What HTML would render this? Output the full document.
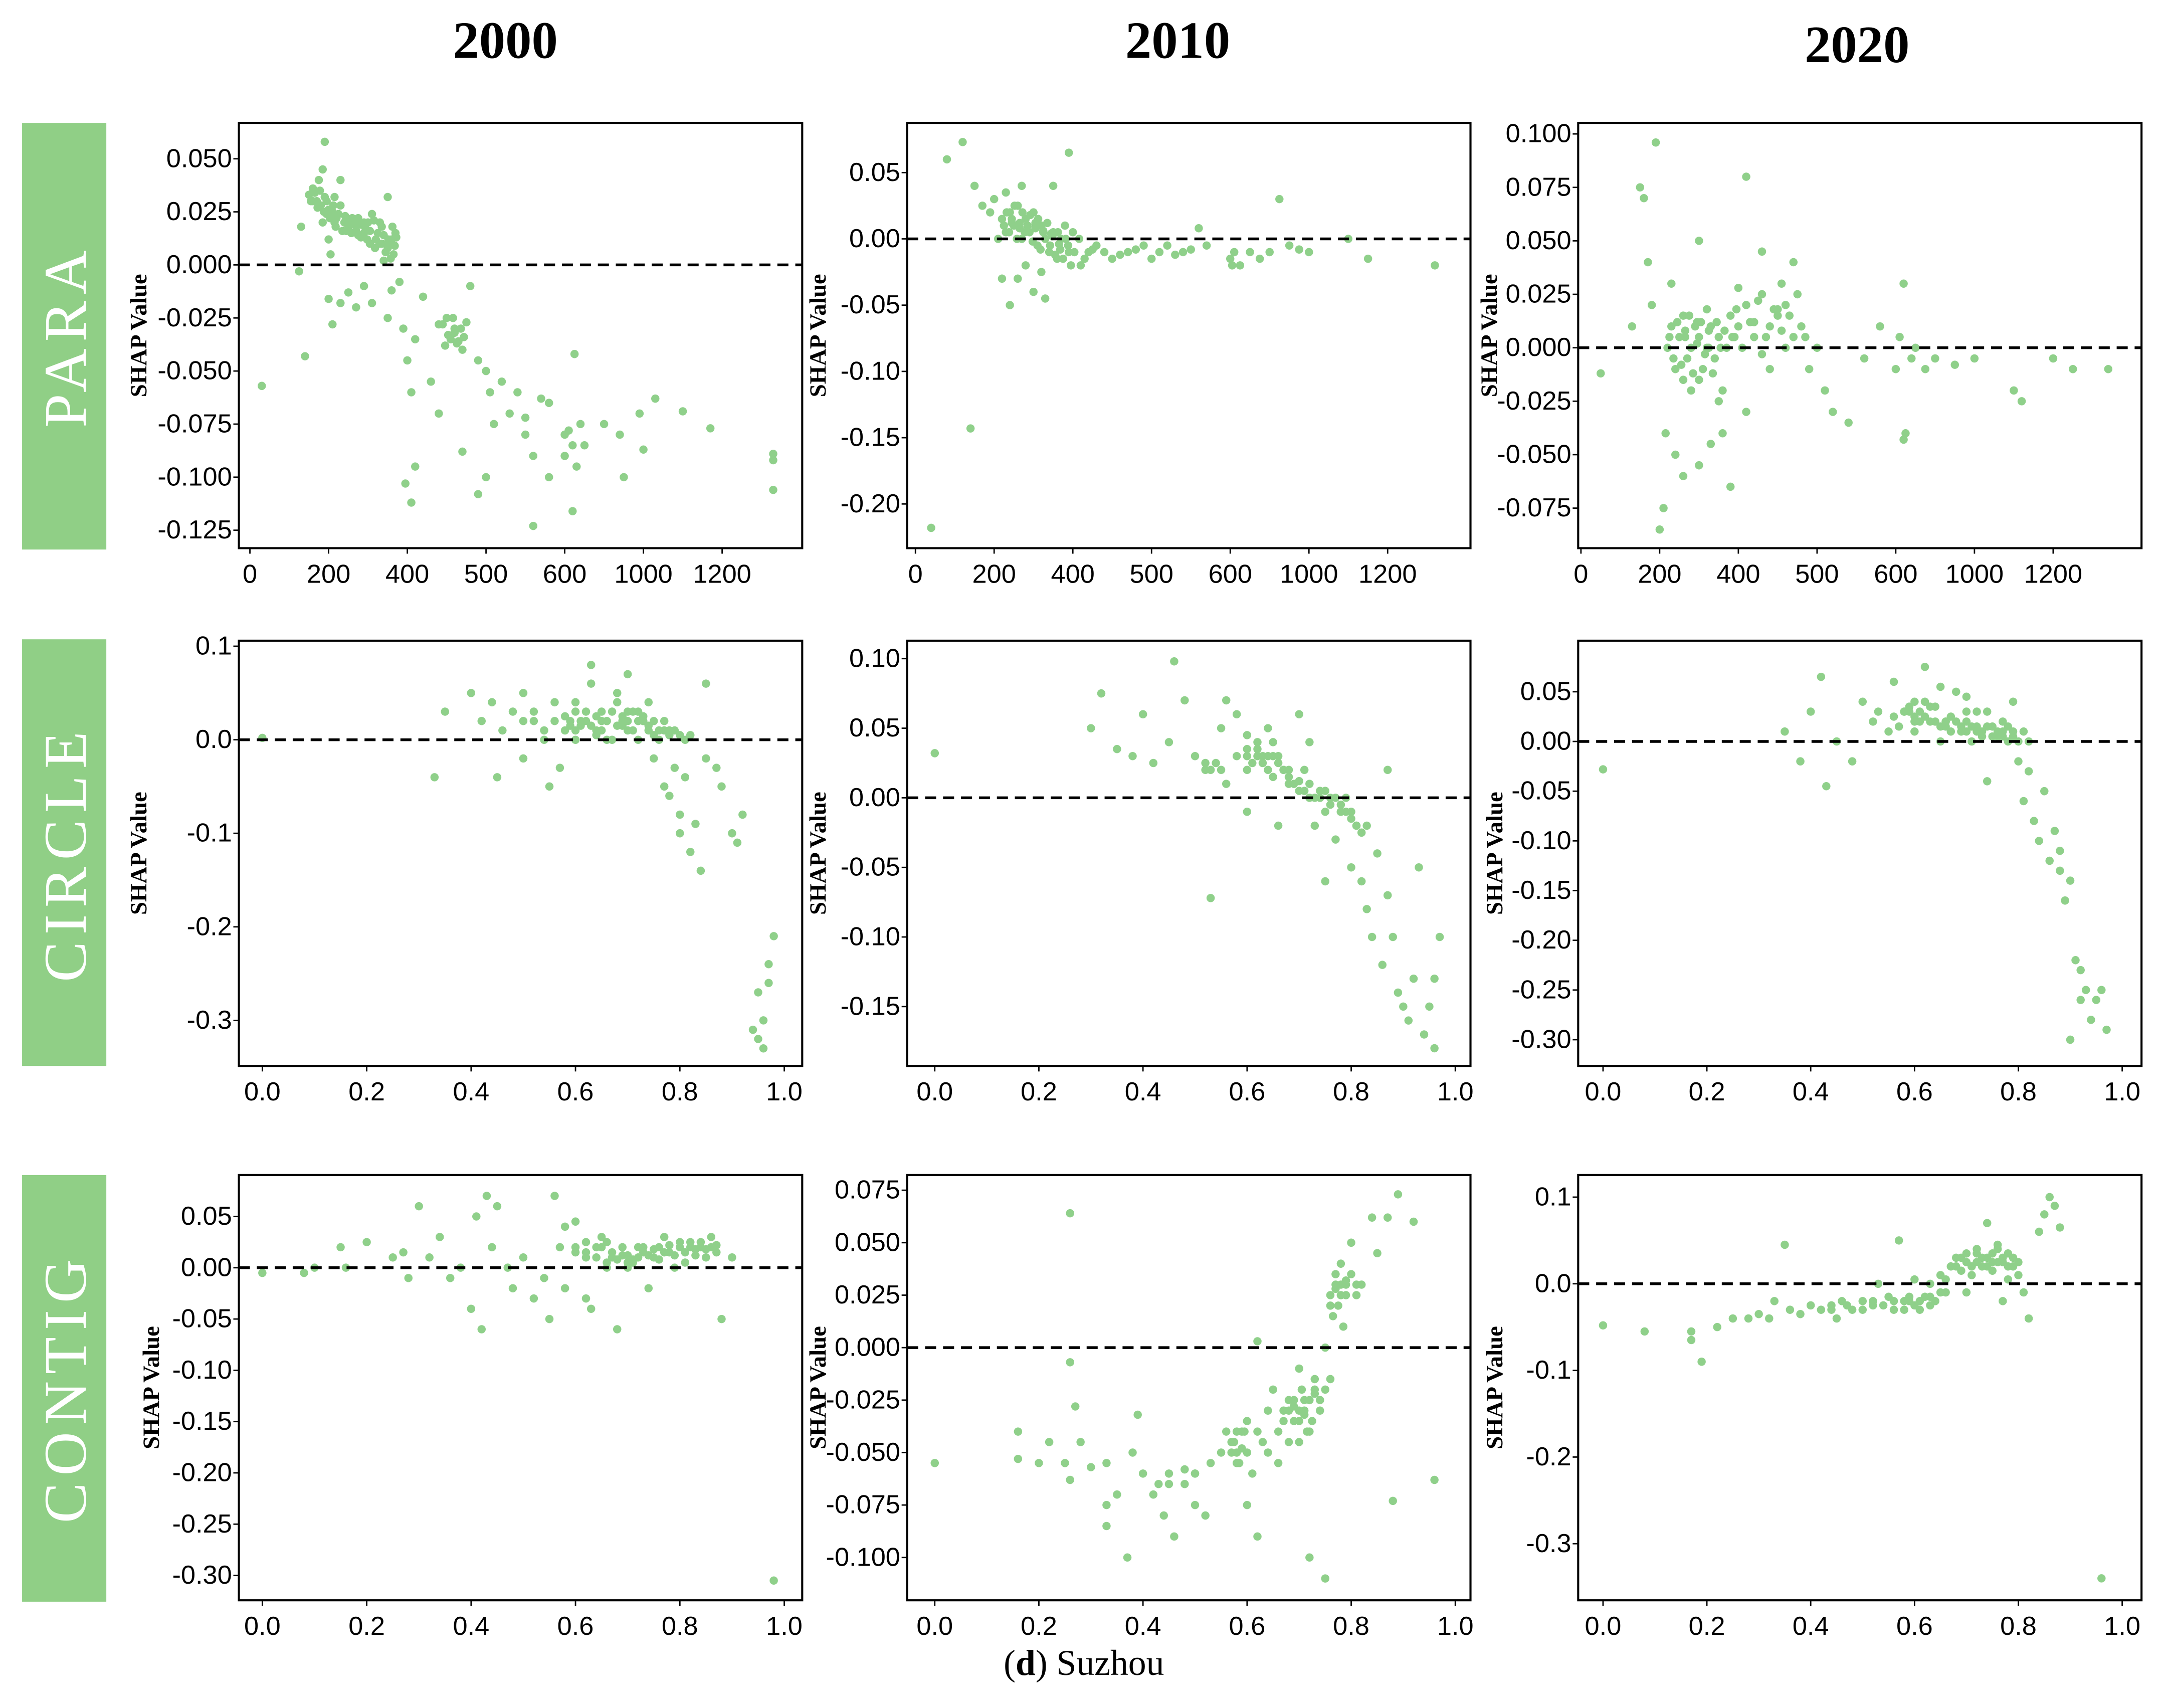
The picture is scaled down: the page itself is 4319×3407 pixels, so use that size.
<!DOCTYPE html>
<html><head><meta charset="utf-8"><title>Suzhou SHAP dependence</title>
<style>
html,body{margin:0;padding:0;background:#fff;}
svg{display:block;}
.tick{font-family:"Liberation Sans Narrow","Liberation Sans",sans-serif;font-size:19px;fill:#000;}
.ylab{font-family:"Liberation Serif",serif;font-size:17px;font-weight:bold;fill:#000;}
.year{font-family:"Liberation Serif",serif;font-size:38px;font-weight:bold;fill:#000;}
.rowlab{font-family:"Liberation Serif",serif;font-size:44px;fill:#fff;letter-spacing:5px;}
</style></head>
<body>
<svg id="fig" width="4319" height="3407" viewBox="0 0 1568 1237" preserveAspectRatio="none" xmlns="http://www.w3.org/2000/svg">
<rect x="0" y="0" width="1568" height="1237" fill="#fff"/>
<text class="year" x="366" y="42" text-anchor="middle">2000</text>
<text class="year" x="853" y="42" text-anchor="middle">2010</text>
<text class="year" x="1345" y="45" text-anchor="middle">2020</text>
<rect x="16" y="89" width="61" height="309" fill="#90cf86"/>
<rect x="16" y="463" width="61" height="309" fill="#90cf86"/>
<rect x="16" y="851" width="61" height="309" fill="#90cf86"/>
<text class="rowlab" transform="translate(62,243) rotate(-90)" text-anchor="middle">PARA</text>
<text class="rowlab" transform="translate(62,618) rotate(-90)" text-anchor="middle">CIRCLE</text>
<text class="rowlab" transform="translate(62,1005) rotate(-90)" text-anchor="middle">CONTIG</text>
<text x="785" y="1213" text-anchor="middle" style="font-family:'Liberation Serif',serif;font-size:26px">(<tspan font-weight="bold">d</tspan>) Suzhou</text>
<g id="panels"></g>
</svg>
<script>
// ---- data (x values, SHAP values) per panel ----
const p1x=[150,160,170,180,190,200,210,220,230,240,250,260,270,280,290,300,310,320,330,340,350,360,370,365,175,185,190,230,350,200,205,130,340,160,195,215,245,275,305,335,355,
30,140,125,200,210,230,250,270,290,310,350,360,380,390,400,405,410,420,430,440,450,455,460,470,480,490,500,505,510,520,530,540,550,560,570,580,600,620,640,660,680,700,395,405,410,470,490,500,560,640,600,800,880,900,980,1000,1030,1100,1170,1330,1330,1330,650,550,580,440,460,465];
const p1y=[.033,.036,.03,.028,.032,.026,.025,.022,.028,.02,.018,.022,.016,.019,.015,.02,.024,.012,.01,.014,.008,.012,.015,.005,.04,.045,.058,.04,.032,.012,.005,.018,.002,.03,.024,.02,.016,.014,.01,.018,.01,
-.057,-.043,-.003,-.016,-.028,-.018,-.013,-.02,-.01,-.018,-.025,-.012,-.008,-.03,-.045,-.06,-.035,-.015,-.055,-.07,-.025,-.035,-.03,-.04,-.01,-.045,-.05,-.06,-.075,-.055,-.07,-.06,-.072,-.09,-.063,-.065,-.09,-.078,-.085,-.095,-.075,-.085,-.103,-.112,-.095,-.088,-.108,-.1,-.123,-.116,-.08,-.075,-.08,-.1,-.07,-.087,-.063,-.069,-.077,-.089,-.092,-.106,-.042,-.08,-.1,-.028,-.032,-.036];
const e1x=[155,165,172,178,188,195,203,212,218,225,235,242,252,258,265,275,282,292,298,305,315,318,325,335,345,352,358,362,368,372,185,215,290,330,445,452,458,463,468,472,448,475];
const e1y=[.03,.034,.027,.035,.025,.03,.022,.028,.018,.024,.016,.023,.02,.015,.019,.022,.013,.018,.012,.016,.021,.008,.015,.01,.006,.012,.003,.018,.009,.013,.02,.032,.02,.02,-.028,-.033,-.025,-.037,-.03,-.034,-.038,-.027];
const p2x=[80,120,150,170,190,200,210,220,230,240,250,260,270,280,290,300,310,320,330,340,350,360,370,380,390,400,410,420,430,450,470,490,510,530,550,570,600,620,650,700,750,800,850,900,950,1000,1100,1150,1320,240,260,300,330,390,350,270,220,40,140,560,610,230,280,320,245,265,285,305,325,345,365];
const p2y=[.06,.073,.04,.025,.02,.03,.0,.015,.005,.02,.01,.025,.0,.015,.005,.02,-.005,.01,.0,-.01,.005,-.015,.0,.01,-.01,.005,-.02,-.01,-.005,-.015,-.01,-.005,-.01,-.012,-.008,-.005,-.015,-.01,-.02,-.01,-.015,-.01,.03,-.005,-.008,-.01,.0,-.015,-.02,-.05,-.03,-.04,-.045,.065,.04,.04,-.03,-.218,-.143,.008,-.02,.035,-.02,-.025,.012,.008,.01,.012,.006,.004,-.004];
const e2x=[225,232,238,245,252,258,265,272,278,285,292,298,305,312,318,325,335,342,348,355,362,368,375,382,388,395,402,408,415,425,440,460,480,500,520,540];
const e2y=[.01,.02,.005,.015,.025,.0,.012,.02,.005,.01,.018,-.002,.008,.015,-.008,.005,.012,-.005,.002,-.012,.005,-.008,-.015,.0,-.005,-.02,-.01,.0,-.015,-.008,-.01,-.012,-.008,-.015,-.005,-.01];
const p3x=[50,130,150,160,190,170,180,200,210,215,220,230,240,250,260,270,280,290,300,310,320,330,340,350,360,370,380,390,400,410,420,430,440,450,460,470,480,490,500,510,520,540,560,580,600,620,640,650,680,700,750,800,900,1000,1100,1200,1250,1340,240,260,300,330,360,380,410,430,300,230,350,280,440,470,410,460,1120,640,265,295,325,420,450];
const p3y=[-.012,.01,.075,.07,.096,.04,.02,-.085,-.075,-.04,.0,.01,-.01,.005,.015,-.005,.0,.01,.005,-.01,.0,.01,-.005,.005,-.02,.0,.015,.005,.01,.02,.005,.025,.01,.015,.02,.005,.01,-.01,.0,-.02,-.03,-.035,-.005,.01,-.01,.005,.03,-.04,-.005,.0,-.01,-.005,-.008,-.005,-.02,-.005,-.01,-.01,-.05,-.06,-.055,-.045,-.04,-.065,.08,.045,.05,.03,-.025,-.02,-.01,.04,-.03,.0,-.025,-.043,.005,.012,.0,.012,.018];
const e3x=[225,235,245,255,265,275,285,295,305,315,325,335,345,355,365,300,260,320,385,395,405,415,425,435,445,455,465,475,400,430,455,485];
const e3y=[.005,-.005,.012,-.008,.008,.015,-.012,.002,.012,-.003,.008,-.012,.012,.0,.008,-.015,-.015,.018,.005,.018,.0,.012,.022,.005,.018,.008,.015,.025,.028,-.003,.03,.005];
const p4x=[0.0,0.33,0.35,0.4,0.42,0.44,0.46,0.48,0.5,0.5,0.52,0.54,0.55,0.56,0.58,0.6,0.6,0.62,0.63,0.64,0.65,0.66,0.67,0.68,0.69,0.7,0.71,0.72,0.73,0.74,0.75,0.76,0.77,0.78,0.79,0.8,0.8,0.82,0.83,0.84,0.85,0.85,0.88,0.9,0.91,0.92,0.95,0.96,0.97,0.97,0.98,0.96,0.94,0.95,0.63,0.7,0.57,0.45,0.68,0.74,0.6,0.66,0.72,0.78,0.81,0.87,0.59,0.61,0.65,0.69,0.73,0.77];
const p4y=[.002,-.04,.03,.05,.02,.04,.01,.03,.05,-.02,.02,.0,-.05,.04,.01,.03,.0,.02,.06,.01,.03,.02,.0,.04,.02,.01,.03,.0,.02,.01,-.02,.0,-.05,.01,-.03,-.08,-.1,-.12,-.09,-.14,.06,-.02,-.05,-.1,-.11,-.08,-.32,-.3,-.26,-.24,-.21,-.33,-.31,-.27,.08,.07,-.03,-.04,.05,.04,.04,.0,.03,-.06,-.04,-.03,.02,.015,.02,.015,.02,.01];
const e4x=[.56,.58,.59,.61,.62,.63,.64,.65,.66,.67,.68,.69,.7,.71,.72,.73,.74,.75,.76,.77,.78,.79,.8,.81,.82,.6,.64,.7,.75,.5,.52,.54];
const e4y=[.02,.025,.015,.02,.03,.015,.025,.01,.02,.03,.015,.025,.02,.01,.02,.025,.015,.02,.01,.02,.005,.01,.005,.0,.005,.01,.005,.03,.005,.02,.03,.01];
const p5x=[0.0,0.3,0.32,0.35,0.38,0.4,0.42,0.45,0.46,0.48,0.5,0.52,0.53,0.54,0.55,0.56,0.58,0.6,0.6,0.62,0.63,0.64,0.65,0.66,0.67,0.68,0.7,0.71,0.72,0.73,0.74,0.75,0.76,0.77,0.78,0.8,0.8,0.81,0.82,0.83,0.84,0.85,0.86,0.87,0.88,0.89,0.9,0.91,0.92,0.93,0.94,0.95,0.96,0.97,0.96,0.7,0.66,0.6,0.56,0.72,0.75,0.79,0.83,0.87,0.64,0.58,0.62,0.68,0.74,0.78];
const p5y=[.032,.05,.075,.035,.03,.06,.025,.04,.098,.07,.03,.02,-.072,.025,.05,.01,.06,.035,.02,.04,.025,.03,.015,.03,.02,.01,.005,.02,.0,-.02,.005,-.01,.0,-.03,-.01,-.01,-.05,-.02,-.06,-.08,-.1,-.04,-.12,-.07,-.1,-.14,-.15,-.16,-.13,-.05,-.17,-.15,-.13,-.1,-.18,.06,-.02,-.01,.07,.04,-.06,.0,-.02,.02,.05,.03,.03,.02,.0,-.01];
const e5x=[.52,.53,.55,.6,.61,.62,.63,.64,.65,.66,.67,.68,.69,.7,.71,.72,.73,.74,.75,.76,.77,.78,.79,.8,.81,.82,.6,.65];
const e5y=[.025,.02,.02,.03,.025,.035,.03,.02,.03,.025,.02,.015,.01,.012,.005,.01,.0,.0,.005,-.005,.0,-.005,-.01,-.015,-.02,-.025,.045,.04];
const p6x=[0.0,0.35,0.38,0.4,0.42,0.43,0.45,0.48,0.5,0.52,0.55,0.56,0.58,0.6,0.6,0.62,0.63,0.64,0.65,0.66,0.67,0.68,0.69,0.7,0.71,0.72,0.73,0.74,0.75,0.76,0.77,0.78,0.79,0.8,0.81,0.82,0.83,0.84,0.85,0.86,0.87,0.88,0.89,0.9,0.91,0.92,0.93,0.94,0.95,0.96,0.97,0.9,0.92,0.88,0.65,0.7,0.6,0.74,0.79,0.82,0.53,0.57,0.59,0.61,0.66,0.72,0.77];
const p6y=[-.028,.01,-.02,.03,.065,-.045,.0,-.02,.04,.02,.01,.06,.03,.025,.04,.075,.02,.035,.0,.015,.025,.05,.01,.02,.0,.03,.01,-.04,.015,.005,.02,.0,.01,-.02,-.06,.0,-.08,-.1,-.05,-.12,-.09,-.13,-.16,-.14,-.22,-.26,-.25,-.28,-.26,-.25,-.29,-.3,-.23,-.11,.055,.045,.01,.03,.04,-.03,.03,.015,.03,.02,.02,.015,.01];
const e6x=[.56,.58,.59,.6,.61,.62,.63,.64,.65,.66,.67,.68,.69,.7,.71,.72,.73,.74,.75,.76,.77,.78,.79,.8,.81,.62,.7];
const e6y=[.025,.03,.035,.02,.03,.025,.035,.02,.015,.02,.01,.02,.015,.01,.015,.01,.005,.015,.005,.01,.005,.015,.005,.0,.01,.04,.03];
const p7x=[0.0,0.08,0.1,0.15,0.16,0.2,0.25,0.27,0.28,0.3,0.32,0.34,0.36,0.38,0.4,0.41,0.42,0.43,0.44,0.45,0.47,0.5,0.52,0.54,0.55,0.56,0.57,0.58,0.6,0.62,0.63,0.64,0.66,0.67,0.68,0.7,0.72,0.73,0.74,0.75,0.76,0.78,0.8,0.81,0.82,0.84,0.85,0.86,0.88,0.9,0.98,0.6,0.65,0.7,0.77,0.62,0.48,0.58,0.66,0.79,0.69,0.71,0.83,0.87];
const p7y=[-.005,-.005,.0,.02,.0,.025,.01,.015,-.01,.06,.01,.03,-.01,.0,-.04,.05,-.06,.07,.02,.06,.0,.01,-.03,-.01,-.05,.07,.02,-.02,.015,.01,-.04,.02,.0,.01,-.06,.005,.02,.015,-.02,.01,.02,.015,.02,.005,.025,.02,.01,.03,-.05,.01,-.305,.045,.03,.0,.03,-.03,-.02,.04,.025,.0,.012,.008,.018,.022];
const e7x=[.6,.62,.64,.65,.67,.68,.69,.7,.71,.72,.73,.74,.75,.76,.77,.78,.79,.8,.81,.82,.83,.84,.85,.86,.87,.62,.66];
const e7y=[.02,.015,.01,.02,.015,.008,.02,.012,.005,.01,.02,.012,.018,.008,.015,.022,.012,.025,.015,.02,.012,.025,.018,.02,.015,.025,.005];
const p8x=[0.0,0.16,0.16,0.2,0.22,0.25,0.26,0.26,0.26,0.27,0.28,0.3,0.33,0.33,0.33,0.35,0.37,0.38,0.39,0.4,0.42,0.43,0.44,0.45,0.46,0.48,0.5,0.5,0.52,0.53,0.55,0.56,0.57,0.58,0.58,0.59,0.6,0.61,0.62,0.63,0.64,0.65,0.66,0.67,0.68,0.69,0.7,0.71,0.72,0.72,0.73,0.74,0.75,0.75,0.76,0.76,0.77,0.78,0.78,0.79,0.8,0.81,0.82,0.84,0.85,0.87,0.88,0.89,0.92,0.96,0.62,0.7,0.6,0.66,0.69,0.71,0.73,0.77,0.79];
const p8y=[-.055,-.04,-.053,-.055,-.045,-.055,.064,-.007,-.063,-.028,-.045,-.057,-.055,-.075,-.085,-.07,-.1,-.05,-.032,-.06,-.07,-.065,-.08,-.06,-.09,-.065,-.06,-.075,-.08,-.055,-.05,-.04,-.045,-.05,-.055,-.04,-.035,-.06,-.09,-.045,-.03,-.02,-.04,-.03,-.025,-.035,-.03,-.025,-.04,-.1,-.02,-.03,-.11,.0,-.015,.02,.03,.025,.04,.03,.05,.025,.03,.062,.045,.062,-.073,.073,.06,-.063,.003,-.01,-.075,-.055,-.028,-.032,-.022,.028,.032];
const e8x=[.57,.575,.58,.585,.59,.595,.6,.67,.68,.69,.7,.705,.71,.715,.72,.725,.73,.74,.75,.68,.7,.76,.765,.77,.775,.78,.785,.79,.8,.81,.62,.64,.5,.45,.48];
const e8y=[-.05,-.045,-.04,-.055,-.048,-.04,-.05,-.035,-.03,-.025,-.035,-.02,-.03,-.04,-.025,-.035,-.015,-.025,-.02,-.045,-.045,.025,.015,.035,.02,.03,.01,.025,.035,.03,-.04,-.05,-.06,-.065,-.058];
const p9x=[0.0,0.08,0.17,0.17,0.19,0.22,0.25,0.28,0.3,0.32,0.33,0.35,0.36,0.38,0.4,0.42,0.44,0.45,0.46,0.48,0.5,0.52,0.53,0.55,0.56,0.57,0.58,0.6,0.61,0.62,0.63,0.64,0.65,0.66,0.67,0.68,0.69,0.7,0.71,0.72,0.73,0.74,0.75,0.76,0.77,0.78,0.79,0.8,0.81,0.82,0.84,0.85,0.86,0.87,0.88,0.96,0.7,0.74,0.6,0.77,0.59,0.63,0.71,0.75];
const p9y=[-.048,-.055,-.055,-.065,-.09,-.05,-.04,-.04,-.035,-.04,-.02,.045,-.03,-.035,-.025,-.03,-.025,-.04,-.02,-.03,-.02,-.025,.0,-.015,-.03,.05,-.02,-.025,-.03,-.015,.0,-.02,.01,-.01,.02,.03,.015,.025,.01,.035,.02,.03,.015,.04,.025,.02,.03,.01,-.01,-.04,.06,.08,.1,.09,.065,-.34,-.01,.07,.005,-.02,-.02,-.015,.02,.025];
const e9x=[.44,.47,.5,.52,.54,.56,.58,.59,.61,.63,.65,.66,.68,.69,.7,.71,.72,.73,.74,.75,.76,.77,.78,.79,.8,.72,.76,.78];
const e9y=[-.03,-.025,-.03,-.02,-.025,-.02,-.03,-.015,-.02,-.025,-.01,.005,.02,.03,.035,.02,.025,.03,.02,.035,.025,.03,.035,.02,.025,.04,.045,.005];
// ---- tick labels ----
const paraTicks=[0,200,400,500,600,1000,1200];
const paraTickLabels=["0","200","400","500","600","1000","1200"];
const fracTicks=[0,0.2,0.4,0.6,0.8,1.0];
const fracTickLabels=["0.0","0.2","0.4","0.6","0.8","1.0"];
const yt1=[0.05,0.025,0,-0.025,-0.05,-0.075,-0.1,-0.125], yl1=["0.050","0.025","0.000","-0.025","-0.050","-0.075","-0.100","-0.125"];
const yt2=[0.05,0,-0.05,-0.1,-0.15,-0.2], yl2=["0.05","0.00","-0.05","-0.10","-0.15","-0.20"];
const yt3=[0.1,0.075,0.05,0.025,0,-0.025,-0.05,-0.075], yl3=["0.100","0.075","0.050","0.025","0.000","-0.025","-0.050","-0.075"];
const yt4=[0.1,0,-0.1,-0.2,-0.3], yl4=["0.1","0.0","-0.1","-0.2","-0.3"];
const yt5=[0.1,0.05,0,-0.05,-0.1,-0.15], yl5=["0.10","0.05","0.00","-0.05","-0.10","-0.15"];
const yt6=[0.05,0,-0.05,-0.1,-0.15,-0.2,-0.25,-0.3], yl6=["0.05","0.00","-0.05","-0.10","-0.15","-0.20","-0.25","-0.30"];
const yt7=[0.05,0,-0.05,-0.1,-0.15,-0.2,-0.25,-0.3], yl7=["0.05","0.00","-0.05","-0.10","-0.15","-0.20","-0.25","-0.30"];
const yt8=[0.075,0.05,0.025,0,-0.025,-0.05,-0.075,-0.1], yl8=["0.075","0.050","0.025","0.000","-0.025","-0.050","-0.075","-0.100"];
const yt9=[0.1,0,-0.1,-0.2,-0.3], yl9=["0.1","0.0","-0.1","-0.2","-0.3"];

const NS="http://www.w3.org/2000/svg";
function mk(tag,attrs,parent){const e=document.createElementNS(NS,tag);for(const k in attrs)e.setAttribute(k,attrs[k]);parent.appendChild(e);return e;}
const panels=[
 {n:"para-2000",bx:[173,581],by:[89,397],xk:"para",x0:181,xs:57,ya:[0.05,115],yb:[-0.125,384],yt:yt1,yl:yl1,px:p1x.concat(e1x),py:p1y.concat(e1y),lx:106},
 {n:"para-2010",bx:[657,1065],by:[89,397],xk:"para",x0:663,xs:57,ya:[0.05,125],yb:[-0.2,365],yt:yt2,yl:yl2,px:p2x.concat(e2x),py:p2y.concat(e2y),lx:598},
 {n:"para-2020",bx:[1143,1551],by:[89,397],xk:"para",x0:1145,xs:57,ya:[0.1,97],yb:[-0.075,368],yt:yt3,yl:yl3,px:p3x.concat(e3x),py:p3y.concat(e3y),lx:1084},
 {n:"circle-2000",bx:[173,581],by:[464,772],xk:"frac",x0:190,x1:568,ya:[0.1,468],yb:[-0.3,739],yt:yt4,yl:yl4,px:p4x.concat(e4x),py:p4y.concat(e4y),lx:106},
 {n:"circle-2010",bx:[657,1065],by:[464,772],xk:"frac",x0:677,x1:1054,ya:[0.1,477],yb:[-0.15,729],yt:yt5,yl:yl5,px:p5x.concat(e5x),py:p5y.concat(e5y),lx:598},
 {n:"circle-2020",bx:[1143,1551],by:[464,772],xk:"frac",x0:1161,x1:1537,ya:[0.05,501],yb:[-0.3,753],yt:yt6,yl:yl6,px:p6x.concat(e6x),py:p6y.concat(e6y),lx:1088},
 {n:"contig-2000",bx:[173,581],by:[851,1159],xk:"frac",x0:190,x1:568,ya:[0.05,881],yb:[-0.3,1141],yt:yt7,yl:yl7,px:p7x.concat(e7x),py:p7y.concat(e7y),lx:115},
 {n:"contig-2010",bx:[657,1065],by:[851,1159],xk:"frac",x0:677,x1:1054,ya:[0.075,862],yb:[-0.1,1128],yt:yt8,yl:yl8,px:p8x.concat(e8x),py:p8y.concat(e8y),lx:598},
 {n:"contig-2020",bx:[1143,1551],by:[851,1159],xk:"frac",x0:1161,x1:1537,ya:[0.1,867],yb:[-0.3,1118],yt:yt9,yl:yl9,px:p9x.concat(e9x),py:p9y.concat(e9y),lx:1088}
];
const root=document.getElementById('panels');
panels.forEach(p=>{
 const g=mk('g',{},root);
 
 
 let xs,xt,xl;
 if(p.xk==="para"){xt=paraTicks;xl=paraTickLabels;
  xs=v=>{for(let i=0;i<xt.length-1;i++){if(v<=xt[i+1]||i===xt.length-2){return p.x0+p.xs*(i+(v-xt[i])/(xt[i+1]-xt[i]));}}};}
 else{xt=fracTicks;xl=fracTickLabels;xs=v=>p.x0+(p.x1-p.x0)*v;}
 const ys=v=>p.ya[1]+(v-p.ya[0])*(p.yb[1]-p.ya[1])/(p.yb[0]-p.ya[0]);
 const W=p.bx[1]-p.bx[0],H=p.by[1]-p.by[0];
 const pg=mk('g',{},g);
 
 
 for(let i=0;i<p.px.length;i++){
  const c=mk('circle',{cx:xs(p.px[i]).toFixed(1),cy:ys(p.py[i]).toFixed(1),r:3,fill:'#8fd08a'},pg);
  
  
 }
 const zl=mk('line',{x1:p.bx[0],x2:p.bx[1],y1:ys(0),y2:ys(0),stroke:'#000','stroke-width':2,'stroke-dasharray':'8,5'},g);
 
 
 const fr=mk('rect',{x:p.bx[0],y:p.by[0],width:W,height:H,fill:'none',stroke:'#000','stroke-width':1.5},g);
 
 
 xt.forEach((v,i)=>{
  const x=xs(v);
  mk('line',{x1:x,x2:x,y1:p.by[1],y2:p.by[1]+4,stroke:'#000','stroke-width':1},g);
  const t=mk('text',{x:x,y:p.by[1]+25,'text-anchor':'middle','class':'tick'},g);
  t.textContent=xl[i];
  
  
 });
 p.yt.forEach((v,i)=>{
  const y=ys(v);
  mk('line',{x1:p.bx[0]-4,x2:p.bx[0],y1:y,y2:y,stroke:'#000','stroke-width':1},g);
  const t=mk('text',{x:p.bx[0]-5,y:y+6,'text-anchor':'end','class':'tick'},g);
  t.textContent=p.yl[i];
  
  
 });
 const yl=mk('text',{transform:'translate('+p.lx+','+((p.by[0]+p.by[1])/2)+') rotate(-90)','text-anchor':'middle','class':'ylab'},g);
 yl.textContent='SHAP Value';
 
 
});
</script>
</body></html>
